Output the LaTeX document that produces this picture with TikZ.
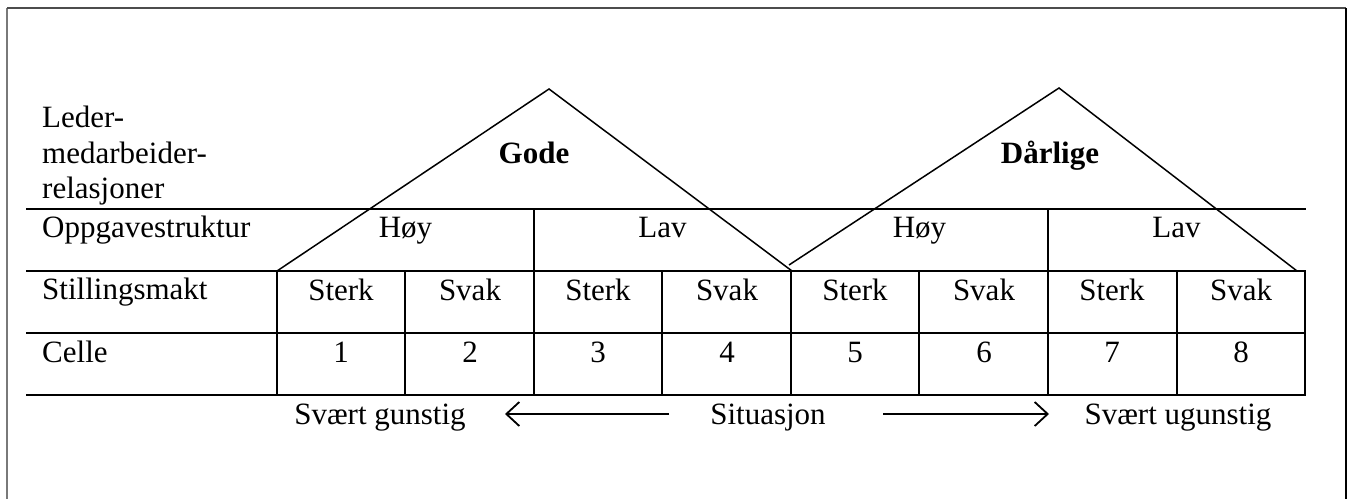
\documentclass[tikz,border=0pt]{standalone}
\usepackage{fontspec}
\setmainfont{Liberation Serif}
\usetikzlibrary{arrows.meta}
\begin{document}
\begin{tikzpicture}[x=1pt,y=-1pt,
  txt/.style={inner sep=0pt,anchor=base west,font=\fontsize{31}{35.6}\selectfont},
  ctxt/.style={inner sep=0pt,anchor=base,font=\fontsize{31}{35.6}\selectfont},
  grid/.style={line width=2pt,line cap=rect},
  roof/.style={line width=1.5pt},
  sarrow/.style={line width=1.8pt,-{Straight Barb[length=13pt,width=24pt,line width=1.8pt]}}]
\useasboundingbox (0,0) rectangle (1349,498);
% frame
\draw[line width=2pt,gray!95!black] (7,8) -- (7,500);
\draw[line width=1.5pt,black!70] (7,8) -- (1346,8);
\draw[line width=1.2pt,black] (1346,8) -- (1346,500);
% table horizontal lines
\foreach \y in {209,271,333,395} \draw[grid] (27,\y) -- (1305,\y);
\foreach \x in {534,1048} \draw[grid] (\x,209) -- (\x,395);
\foreach \x in {277,405,662,791,919,1177,1305} \draw[grid] (\x,271) -- (\x,395);
% roofs
\coordinate (g1) at (277,271); \coordinate (g2) at (549,89); \coordinate (g3) at (792,271);
\coordinate (d1) at (789,265); \coordinate (d2) at (1059,88); \coordinate (d3) at (1297,271);
\draw[roof] (g1) -- (g2) -- (g3);
\draw[roof] (d1) -- (d2) -- (d3);
% left labels
\node[txt] (l1) at (42,127) {Leder-};
\node[txt] (l2) at (42,163) {medarbeider-};
\node[txt] (l3) at (42,198) {relasjoner};
\node[txt] (l4) at (42,237) {Oppgavestruktur};
\node[txt] (l5) at (42,299) {Stillingsmakt};
\node[txt] (l6) at (42,362) {Celle};
% roof labels
\node[ctxt,font=\fontsize{31}{35.6}\selectfont\bfseries] (gode) at (534,163) {Gode};
\node[ctxt,font=\fontsize{31}{35.6}\selectfont\bfseries] (darl) at (1050,163) {Dårlige};
% second row
\node[ctxt] (h1) at (405.5,237) {Høy};
\node[ctxt] (v1) at (662.5,237) {Lav};
\node[ctxt] (h2) at (919.5,237) {Høy};
\node[ctxt] (v2) at (1176.5,237) {Lav};
% third and fourth rows
\foreach \i/\x in {1/341,3/598,5/855,7/1112} {
  \node[ctxt] (s\i) at (\x,300) {Sterk};
}
\foreach \i/\x in {2/470,4/727,6/984,8/1241} {
  \node[ctxt] (s\i) at (\x,300) {Svak};
}
\foreach \i/\x in {1/341,2/470,3/598,4/727,5/855,6/984,7/1112,8/1241} {
  \node[ctxt] (c\i) at (\x,362) {\i};
}
% bottom
\node[ctxt] (gun) at (380,424) {Svært gunstig};
\node[ctxt] (sit) at (768,424) {Situasjon};
\node[ctxt] (ugun) at (1178,424) {Svært ugunstig};
\coordinate (la) at (669,414); \coordinate (lb) at (505,414);
\coordinate (ra) at (883,414); \coordinate (rb) at (1049,414);
\draw[sarrow] (la) -- (lb);
\draw[sarrow] (ra) -- (rb);
\end{tikzpicture}
\end{document}
